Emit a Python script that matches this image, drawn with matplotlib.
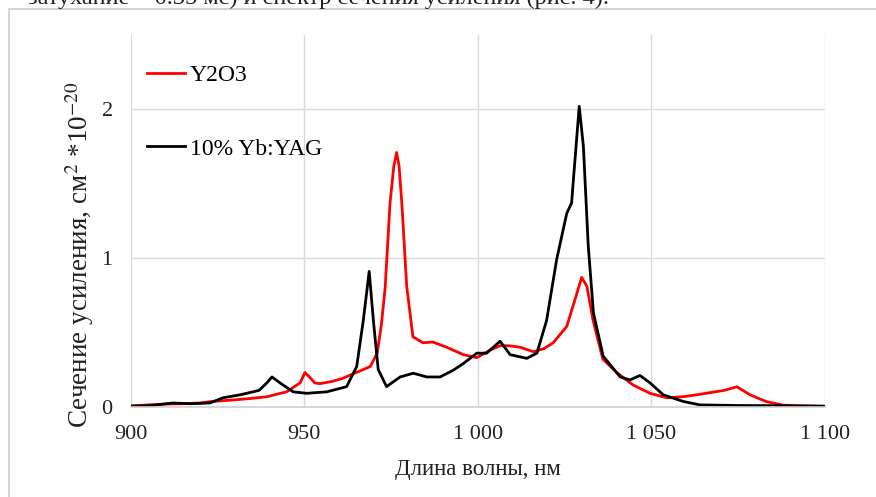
import matplotlib.pyplot as plt
from matplotlib.lines import Line2D

plt.rcParams['font.family'] = ['Liberation Serif', 'DejaVu Serif']
plt.rcParams['mathtext.fontset'] = 'stix'

# Y2O3 (красная кривая)
y2o3_x = [900, 905, 910, 915, 920, 922.8, 925, 929.5, 934.4, 939.2, 944.9, 948.8, 950.2, 951.5,
          953, 954.5, 958, 961, 964, 967, 969, 971, 972.2, 973.3, 974.7, 975.8, 976.6, 977.3,
          978.1, 979.5, 981.3, 984.2, 987, 991, 995.8, 999.7, 1003.5, 1006.4, 1009, 1012.1,
          1016, 1019, 1021.7, 1025.6, 1028.5, 1029.9, 1031.4, 1033.2, 1036, 1040, 1044.7,
          1049.6, 1054.4, 1059, 1063, 1067, 1071, 1074.6, 1078.4, 1083, 1088, 1093, 1100]
y2o3_y = [0.005, 0.012, 0.018, 0.02, 0.025, 0.034, 0.038, 0.045, 0.055, 0.067, 0.1, 0.16, 0.23, 0.2,
          0.16, 0.155, 0.17, 0.19, 0.22, 0.25, 0.27, 0.36, 0.55, 0.8, 1.37, 1.62, 1.71, 1.62,
          1.37, 0.81, 0.47, 0.43, 0.435, 0.4, 0.35, 0.33, 0.38, 0.41, 0.41, 0.4,
          0.37, 0.39, 0.43, 0.54, 0.76, 0.87, 0.81, 0.58, 0.32, 0.23, 0.146,
          0.09, 0.06, 0.067, 0.08, 0.095, 0.11, 0.134, 0.08, 0.035, 0.01, 0.006, 0.003]

# 10% Yb:YAG (черная кривая)
yag_x = [900, 906, 912.2, 917, 922.8, 926.6, 931.5, 933.4, 937, 939.2, 940.7, 943, 946.8, 950.7,
         956.5, 962.2, 965.1, 967, 968.7, 969.9, 971.3, 973.7, 977.6, 981.4, 985.3, 989.1,
         992.9, 995.8, 999.7, 1002.5, 1006.4, 1009.3, 1014.1, 1017, 1019.8, 1022.7, 1025.6,
         1027, 1027.5, 1029.2, 1030.4, 1031.8, 1033.3, 1036.1, 1041, 1043.8, 1046.7, 1049.6,
         1053.4, 1059.2, 1064, 1075, 1090, 1100]
yag_y = [0.003, 0.008, 0.025, 0.02, 0.025, 0.06, 0.08, 0.09, 0.11, 0.16, 0.2, 0.16, 0.1, 0.09,
         0.1, 0.135, 0.27, 0.58, 0.91, 0.58, 0.25, 0.135, 0.2, 0.225, 0.2, 0.2,
         0.245, 0.29, 0.36, 0.36, 0.44, 0.35, 0.325, 0.36, 0.58, 0.99, 1.3,
         1.37, 1.52, 2.02, 1.75, 1.08, 0.63, 0.34, 0.2, 0.18, 0.21, 0.16,
         0.08, 0.035, 0.012, 0.008, 0.006, 0.003]

x_ticks = [900, 950, 1000, 1050, 1100]
x_tick_labels = ['900', '950', '1 000', '1 050', '1 100']
y_ticks = [0, 1, 2]

fig = plt.figure(figsize=(8.76, 4.97), dpi=100)
ax = fig.add_axes([0.1492, 0.1817, 0.7926, 0.7479])

# рамка и обрезанный текст сверху (скриншот документа)
fig.add_artist(Line2D([9 / 876, 1], [1 - 9 / 497, 1 - 9 / 497], color='#d4d4d4', lw=1.5))
fig.add_artist(Line2D([9 / 876, 9 / 876], [0, 1 - 9 / 497], color='#d4d4d4', lw=1.5))
fig.text(28 / 876, 1.003, 'затухание ~ 0.35 мс) и спектр сечения усиления (рис. 4).',
         fontsize=17.5, va='center', ha='left', color='#222222')

ax.plot(y2o3_x, y2o3_y, color='#ff0000', lw=2.0, label='Y2O3')
ax.plot(yag_x, yag_y, color='black', lw=2.0, label='10% Yb:YAG')

ax.set_xlim(900, 1100)
ax.set_ylim(0, 2.5)
ax.set_xticks(x_ticks)
ax.set_xticklabels(x_tick_labels)
ax.set_yticks(y_ticks)

ax.grid(True, color='#d9d9d9', lw=1)
ax.set_axisbelow(True)
for s in ['top', 'right', 'left']:
    ax.spines[s].set_visible(False)
ax.spines['bottom'].set_color('#d0d0d0')
ax.spines['bottom'].set_linewidth(1.2)
ax.tick_params(length=0, labelsize=16, colors='#222222')
ax.tick_params(axis='x', pad=13)
ax.tick_params(axis='y', pad=13)

ax.set_xlabel('Длина волны, нм', fontsize=16.5, color='#222222')
ax.xaxis.set_label_coords(0.5, -0.14)
ax.set_ylabel('Сечение усиления, см$^2$ *10$^{-20}$', fontsize=19.5, color='#222222')
ax.yaxis.set_label_coords(-0.05, 0.408)

ax.legend(loc='upper left', bbox_to_anchor=(0.0, 0.965), frameon=False, fontsize=17,
          handlelength=1.6, handletextpad=0.2, labelspacing=2.2, borderaxespad=0.3)

fig.savefig('out.png', dpi=100)
